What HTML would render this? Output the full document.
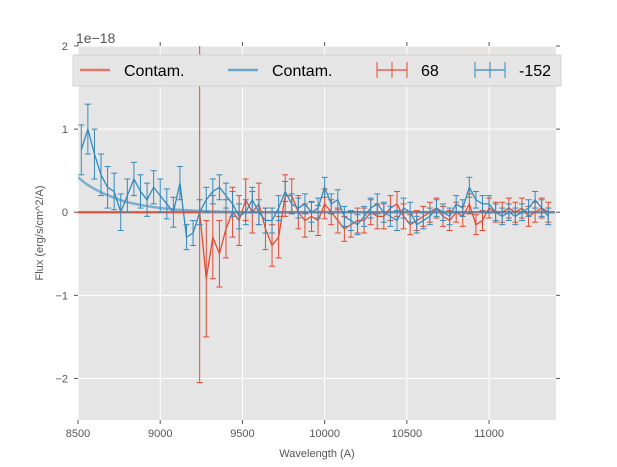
<!DOCTYPE html>
<html><head><meta charset="utf-8"><style>
html,body{margin:0;padding:0;background:#fff;}
svg{display:block;font-family:"Liberation Sans",sans-serif;}
</style></head><body>
<svg id="chart" width="617" height="467" viewBox="0 0 617 467" xmlns="http://www.w3.org/2000/svg"></svg>
<script>
const xTicks=[8500,9000,9500,10000,10500,11000];
const yTicks=[-2,-1,0,1,2];
const yTickLabels=["\u22122","\u22121","0","1","2"];
const blueX=[8520,8560,8600,8640,8680,8720,8760,8800,8840,8880,8920,8960,9000,9040,9080,9120,9160,9200,9240,9280,9320,9360,9400,9440,9480,9520,9560,9600,9640,9680,9720,9760,9800,9840,9880,9920,9960,10000,10040,10080,10120,10160,10200,10240,10280,10320,10360,10400,10440,10480,10520,10560,10600,10640,10680,10720,10760,10800,10840,10880,10920,10960,11000,11040,11080,11120,11160,11200,11240,11280,11320,11360];
const blueY=[0.75,1.0,0.7,0.45,0.3,0.25,0.0,0.2,0.4,0.25,0.15,0.3,0.2,0.1,0.0,0.35,-0.3,-0.25,0.0,0.15,0.25,0.3,0.2,0.1,-0.05,0.0,0.15,0.0,-0.1,-0.1,0.05,0.25,0.1,0.05,0.1,0.0,0.05,0.3,0.1,0.15,-0.05,-0.1,-0.15,-0.05,0.05,0.1,0.0,-0.05,-0.1,0.05,0.0,-0.15,-0.1,-0.05,0.05,0.0,-0.05,0.1,0.05,0.3,0.15,0.1,0.1,0.0,-0.05,0.0,-0.05,0.0,0.05,0.15,0.05,-0.05];
const blueErr=[0.3,0.3,0.3,0.25,0.25,0.22,0.22,0.2,0.2,0.2,0.2,0.2,0.2,0.18,0.18,0.2,0.15,0.15,0.15,0.15,0.15,0.15,0.15,0.15,0.15,0.15,0.15,0.15,0.15,0.15,0.15,0.12,0.12,0.12,0.12,0.12,0.12,0.12,0.12,0.12,0.12,0.12,0.12,0.12,0.12,0.12,0.12,0.12,0.12,0.12,0.12,0.1,0.1,0.1,0.1,0.1,0.1,0.1,0.1,0.12,0.1,0.1,0.1,0.1,0.1,0.1,0.1,0.1,0.1,0.1,0.1,0.1];
const redX=[9240,9280,9320,9360,9400,9440,9480,9520,9560,9600,9640,9680,9720,9760,9800,9840,9880,9920,9960,10000,10040,10080,10120,10160,10200,10240,10280,10320,10360,10400,10440,10480,10520,10560,10600,10640,10680,10720,10760,10800,10840,10880,10920,10960,11000,11040,11080,11120,11160,11200,11240,11280,11320,11360];
const redY=[0.0,-0.8,-0.3,-0.5,-0.2,0.0,-0.1,0.15,0.0,0.1,-0.2,-0.4,-0.3,0.2,0.2,0.0,-0.1,-0.05,-0.1,0.1,0.0,-0.1,-0.2,-0.15,-0.1,-0.1,0.0,-0.05,-0.05,0.05,0.1,-0.05,-0.15,-0.1,-0.05,0.0,0.05,-0.05,-0.1,0.0,-0.05,0.1,-0.15,-0.1,0.05,0.0,0.0,0.05,0.0,0.05,-0.05,0.0,0.05,0.0];
const redErr=[2.05,0.7,0.5,0.4,0.35,0.3,0.3,0.25,0.25,0.25,0.25,0.25,0.25,0.25,0.2,0.2,0.2,0.18,0.18,0.18,0.15,0.15,0.15,0.15,0.15,0.15,0.15,0.15,0.15,0.15,0.15,0.15,0.12,0.12,0.12,0.12,0.12,0.12,0.12,0.12,0.12,0.12,0.12,0.12,0.12,0.12,0.12,0.12,0.12,0.12,0.12,0.12,0.12,0.12];
const contamBlueX=[8500,8550,8600,8650,8700,8750,8800,8900,9000,9100,9200,9300,9500,10000,10500,11000,11400];
const contamBlueY=[0.42,0.34,0.28,0.23,0.19,0.15,0.12,0.08,0.05,0.03,0.02,0.01,0.0,0.0,0.0,0.0,0.0];
const contamRedX=[8500,11400];
const contamRedY=[0,0];

const svg=document.getElementById('chart');
const NS='http://www.w3.org/2000/svg';
const L=78,R=556,T=46,B=420;
const xMin=8500,xMax=11407,yMin=-2.5,yMax=2;
const sx=v=>L+(v-xMin)/(xMax-xMin)*(R-L);
const sy=v=>B-(v-yMin)/(yMax-yMin)*(B-T);
function el(tag,attrs,parent){const e=document.createElementNS(NS,tag);for(const k in attrs)e.setAttribute(k,attrs[k]);(parent||svg).appendChild(e);return e;}

const bg=el('rect',{x:L,y:T,width:R-L,height:B-T,fill:'#e5e5e5'});



const grid=el('g',{});


xTicks.forEach(t=>{el('line',{x1:sx(t),x2:sx(t),y1:T,y2:B,stroke:'#fff','stroke-width':1},grid);});
yTicks.forEach(t=>{el('line',{x1:L,x2:R,y1:sy(t),y2:sy(t),stroke:'#fff','stroke-width':1},grid);});

const xAxis=el('g',{});


xTicks.forEach(t=>{
  el('line',{x1:sx(t),x2:sx(t),y1:B,y2:B+4,stroke:'#555'},xAxis);
  el('line',{x1:sx(t),x2:sx(t),y1:T,y2:T-4,stroke:'#555'},xAxis);
  const tx=el('text',{x:sx(t),y:B+17,'font-size':11,fill:'#555','text-anchor':'middle'},xAxis);
  tx.textContent=t;
  
  
});
const yAxis=el('g',{});


yTicks.forEach((t,i)=>{
  el('line',{x1:L,x2:L-4,y1:sy(t),y2:sy(t),stroke:'#555'},yAxis);
  el('line',{x1:R,x2:R+4,y1:sy(t),y2:sy(t),stroke:'#555'},yAxis);
  const tx=el('text',{x:L-10,y:sy(t)+4,'font-size':11,fill:'#555','text-anchor':'end'},yAxis);
  tx.textContent=yTickLabels[i];
  
  
});

const clip=el('clipPath',{id:'pc'});el('rect',{x:L,y:T,width:R-L,height:B-T},clip);
const plot=el('g',{'clip-path':'url(#pc)'});



function line(xs,ys,color,w,op,name){
  const p=el('polyline',{points:xs.map((x,i)=>sx(x)+','+sy(ys[i])).join(' '),fill:'none',stroke:color,'stroke-width':w,opacity:op},plot);
  
  
}
function errs(xs,ys,es,color,name){
  const g=el('g',{stroke:color,'stroke-width':1,fill:'none'},plot);
  
  
  xs.forEach((x,i)=>{
    const X=sx(x),y1=sy(ys[i]+es[i]),y2=sy(ys[i]-es[i]);
    el('line',{x1:X,x2:X,y1:y1,y2:y2},g);
    el('line',{x1:X-3,x2:X+3,y1:y1,y2:y1},g);
    el('line',{x1:X-3,x2:X+3,y1:y2,y2:y2},g);
  });
}
line(contamRedX,contamRedY,'#E24A33',2.5,0.7,'contam-red-line');
line([8500,9230].concat(redX),[0,0].concat(redY),'#E24A33',1.3,1,'series-68-line');
errs(redX,redY,redErr,'#E24A33','series-68-errorbars');
line(contamBlueX,contamBlueY,'#348ABD',2.5,0.6,'contam-blue-line');
line(blueX,blueY,'#348ABD',1.3,1,'series-152-line');
errs(blueX,blueY,blueErr,'#348ABD','series-152-errorbars');

const lg=el('g',{});


el('rect',{x:73,y:55,width:488,height:31,fill:'#e5e5e5',stroke:'#ccc','stroke-width':0.8},lg);
const entries=[['Contam.','#E24A33',80,'line'],['Contam.','#348ABD',228,'line'],['68','#E24A33',377,'err'],['-152','#348ABD',475,'err']];
entries.forEach(([lab,c,x,kind])=>{
  const g=el('g',{},lg);
  
  
  const y=70;
  if(kind==='line'){el('line',{x1:x,x2:x+30,y1:y,y2:y,stroke:c,'stroke-width':2.5,opacity:0.7},g);}
  else{el('line',{x1:x,x2:x+30,y1:y,y2:y,stroke:c,'stroke-width':1.3},g);
    el('line',{x1:x+15,x2:x+15,y1:y-8,y2:y+8,stroke:c},g);
    el('line',{x1:x,x2:x,y1:y-8,y2:y+8,stroke:c},g);el('line',{x1:x+30,x2:x+30,y1:y-8,y2:y+8,stroke:c},g);}
  const t=el('text',{x:x+44,y:y+6,'font-size':16,fill:'#000'},g);t.textContent=lab;
});

const off=el('text',{x:76,y:43,'font-size':14,fill:'#555'});off.textContent='1e\u221218';

const xl=el('text',{x:(L+R)/2,y:457,'font-size':11,fill:'#555','text-anchor':'middle'});xl.textContent='Wavelength (A)';

const yl=el('text',{x:0,y:0,'font-size':11,fill:'#555','text-anchor':'middle',transform:'translate(43,233) rotate(-90)'});yl.textContent='Flux (erg/s/cm^2/A)';

</script>
</body></html>
